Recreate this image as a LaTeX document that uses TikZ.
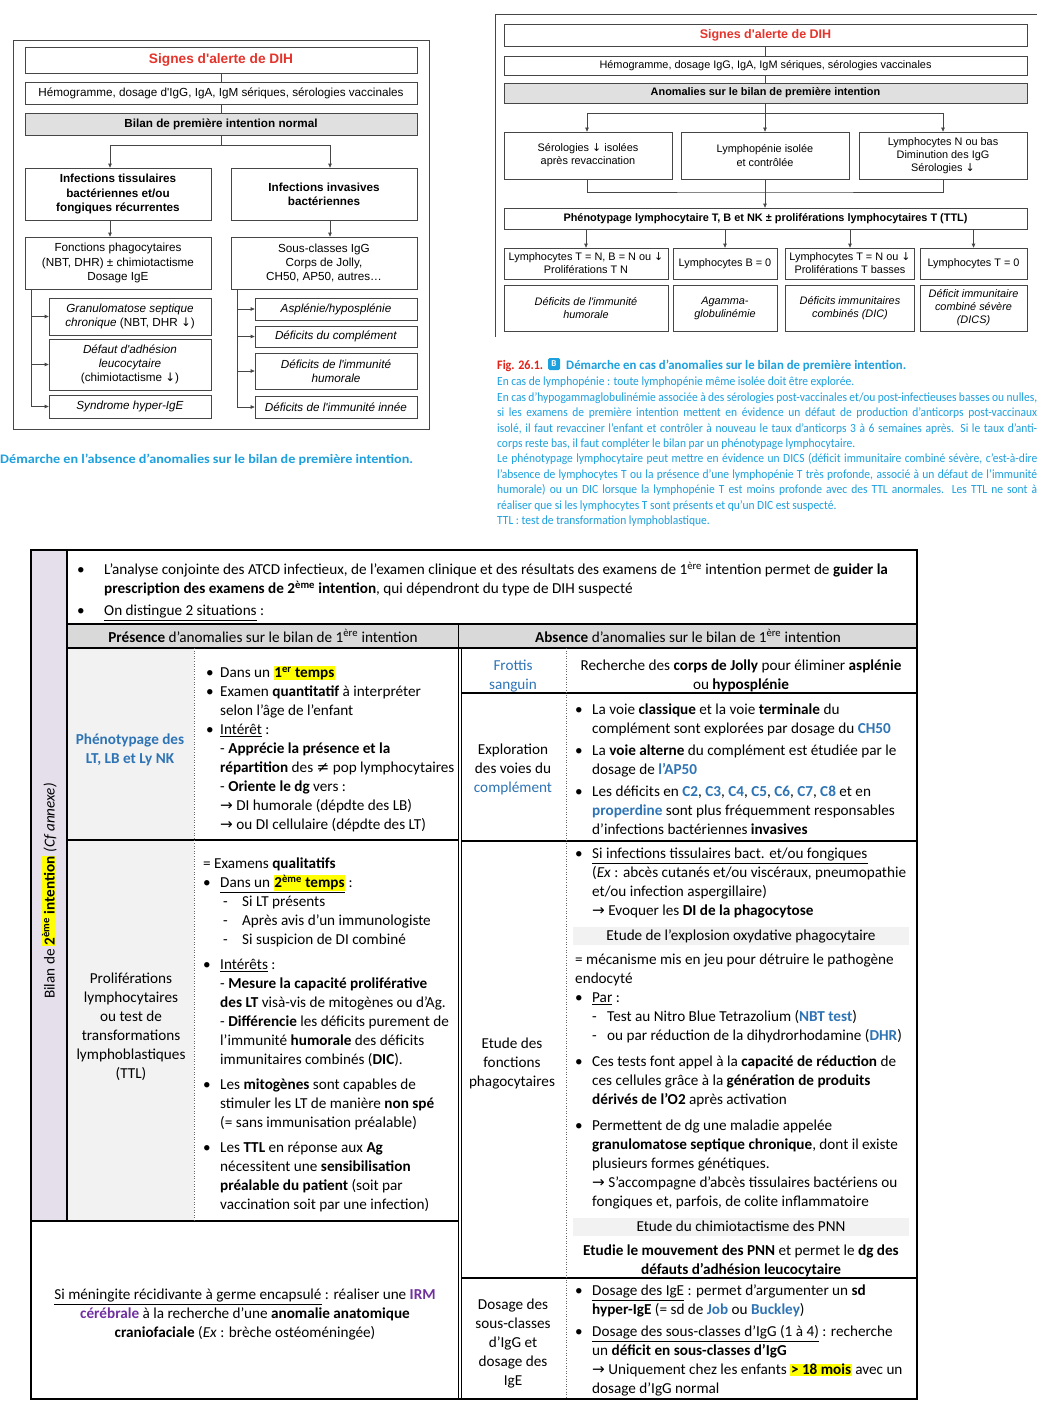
\documentclass[tikz,border=0pt]{standalone}
\usepackage{fontspec}
\setmainfont{Carlito}
\newfontfamily\arialfont{Liberation Sans}
\newfontfamily\symfont{DejaVu Sans}
\usepackage{xcolor}
\usepackage{graphicx}
\usetikzlibrary{positioning, arrows.meta}

\definecolor{dihred}{RGB}{228,52,44}
\definecolor{figred}{RGB}{226,35,26}
\definecolor{capblue}{RGB}{28,160,222}
\definecolor{tblue}{RGB}{46,116,181}
\definecolor{irmpurple}{RGB}{112,48,160}
\definecolor{lavender}{RGB}{229,223,236}
\definecolor{hdrgray}{RGB}{217,217,217}
\definecolor{cellgray}{RGB}{242,242,242}
\definecolor{hly}{RGB}{255,255,0}
\definecolor{flowgray}{RGB}{224,224,224}
\definecolor{flowline}{RGB}{70,70,70}

\newcommand\flowA{\arialfont\fontsize{11.7}{14.3}\selectfont}
\newcommand\flowB{\arialfont\fontsize{10.9}{13.1}\selectfont}
\newcommand\tabfont{\fontsize{15.2}{19}\selectfont}
\newcommand\capfont{\fontsize{12.5}{15.4}\selectfont}

\newcommand\bul[1][17pt]{\makebox[#1][l]{\textbullet}}
\newcommand\indt[1][17pt]{\hspace*{#1}}
\newcommand\dsh[1][15pt]{\makebox[#1][l]{-}}
\newcommand\arr{{\symfont →}}
\newcommand\dn{{\symfont ↓}}
\newcommand\hlt[1]{{\setlength{\fboxsep}{0.7pt}\colorbox{hly}{#1}}}
\newcommand\blu[1]{\textcolor{tblue}{\textbf{#1}}}
\newcommand\capl[1]{\scalebox{0.92}[1]{#1}}
\newcommand\capj[1]{\scalebox{0.92}[1]{\makebox[587pt][s]{#1}}}

\tikzset{
  fboxA/.style={draw=flowline, line width=0.7pt, align=center, inner sep=1pt, font=\flowA},
  fboxB/.style={draw=flowline, line width=0.7pt, align=center, inner sep=1pt, font=\flowB},
  sz/.style 2 args={minimum width=#1pt, minimum height=#2pt},
  flow/.style={draw=flowline, line width=0.7pt},
  cell/.style={anchor=north west, inner sep=0pt, align=left, font=\tabfont, execute at begin node=\strut},
  ccell/.style={anchor=north, inner sep=0pt, align=center, font=\tabfont, execute at begin node=\strut},
  hdr/.style={anchor=base, inner sep=0pt, font=\tabfont},
  band/.style={fill=cellgray, inner sep=0pt, minimum width=336pt, minimum height=18pt, font=\tabfont},
  rule/.style={line width=1.3pt},
  heavyrule/.style={line width=2pt},
  dotrule/.style={dotted, line width=0.6pt, black!60},
}

\begin{document}
\begin{tikzpicture}[x=1pt, y=-1pt, >={Triangle[length=4pt,width=3.5pt]}]
\useasboundingbox (0,0) rectangle (1048,1410);
\fill[white] (0,0) rectangle (1048,1410);

% panel A : bilan normal
\draw[flow] (13,40) rectangle (429,429);
\node[fboxA, sz={392}{26}, font=\arialfont\bfseries\fontsize{13.7}{16}\selectfont, text=dihred] (sigA) at (221,60) {Signes d'alerte de DIH};
\node[fboxA, sz={392}{22}] (hemoA) at (221,93) {Hémogramme, dosage d'IgG, IgA, IgM sériques, sérologies vaccinales};
\node[fboxA, sz={392}{22}, fill=flowgray, font=\flowA\bfseries] (bilA) at (221,124) {Bilan de première intention normal};
\node[fboxA, sz={186}{52}, font=\flowA\bfseries] (tissA) at (118,194) {Infections tissulaires\\bactériennes et/ou\\fongiques récurrentes};
\node[fboxA, sz={186}{52}, font=\flowA\bfseries] (invA) at (324,194) {Infections invasives\\bactériennes};
\node[fboxA, sz={186}{52}] (phagA) at (118,263) {Fonctions phagocytaires\\(NBT, DHR) ± chimiotactisme\\Dosage IgE};
\node[fboxA, sz={186}{52}] (sousA) at (324,263) {Sous-classes IgG\\Corps de Jolly,\\CH50, AP50, autres…};
\node[fboxA, sz={162}{37}] (granA) at (130,316.5) {\textit{Granulomatose septique}\\\textit{chronique} (NBT, DHR \dn)};
\node[fboxA, sz={162}{51}] (ladA) at (130,364.5) {\textit{Défaut d'adhésion}\\\textit{leucocytaire}\\(chimiotactisme \dn)};
\node[fboxA, sz={162}{23}] (hieA) at (130,406.5) {\textit{Syndrome hyper-IgE}};
\node[fboxA, sz={162}{22}] (asplA) at (336,309) {\textit{Asplénie/hyposplénie}};
\node[fboxA, sz={162}{21}] (compA) at (336,336.5) {\textit{Déficits du complément}};
\node[fboxA, sz={162}{36}] (humA) at (336,371) {\textit{Déficits de l'immunité}\\\textit{humorale}};
\node[fboxA, sz={162}{22}] (innA) at (336,407) {\textit{Déficits de l'immunité innée}};

\draw[flow] (sigA) -- (hemoA);
\draw[flow] (hemoA) -- (bilA);
\draw[flow,->] (bilA.south) -- ++(0,10) -| ([xshift=-8pt]tissA.north);
\draw[flow,->] (bilA.south) -- ++(0,10) -| ([xshift=6pt]invA.north);
\draw[flow,->] ([xshift=-8pt]tissA.south) -- ([xshift=-8pt]phagA.north);
\draw[flow,->] ([xshift=6pt]invA.south) -- ([xshift=6pt]sousA.north);
\foreach \n in {granA,ladA,hieA}
  \draw[flow,->] ([xshift=7pt]phagA.south west) |- (\n.west);
\foreach \n in {asplA,compA,humA,innA}
  \draw[flow,->] ([xshift=7pt]sousA.south west) |- (\n.west);

\node[anchor=base west, inner sep=0pt, text=capblue, font=\bfseries\fontsize{13}{15}\selectfont] (capA) at (0,463) {\resizebox{413pt}{\height}{Démarche en l'absence d'anomalies sur le bilan de première intention.}};

% panel B : anomalies
\draw[flow] (495,337) -- (495,14) -- (1037,14);
\node[fboxB, sz={523}{22}, font=\arialfont\bfseries\fontsize{12.5}{15}\selectfont, text=dihred] (sigB) at (765.5,35) {Signes d'alerte de DIH};
\node[fboxB, sz={523}{19}] (hemoB) at (765.5,65.5) {Hémogramme, dosage IgG, IgA, IgM sériques, sérologies vaccinales};
\node[fboxB, sz={523}{20}, fill=flowgray, font=\flowB\bfseries] (anoB) at (765.5,93) {Anomalies sur le bilan de première intention};
\node[fboxB, sz={168}{47}] (serB) at (588,155.5) {Sérologies \dn{} isolées\\après revaccination};
\node[fboxB, sz={168}{47}] (lymB) at (765,155.5) {Lymphopénie isolée\\et contrôlée};
\node[fboxB, sz={168}{47}] (igB) at (943,155.5) {Lymphocytes N ou bas\\Diminution des IgG\\Sérologies \dn};
\node[fboxB, sz={523}{21}, font=\flowB\bfseries] (phenB) at (765.5,218.5) {Phénotypage lymphocytaire T, B et NK ± proliférations lymphocytaires T (TTL)};
\node[fboxB, sz={164}{31}] (r1B) at (586,263.5) {Lymphocytes T = N, B = N ou \dn\\Proliférations T N};
\node[fboxB, sz={104}{31}] (r2B) at (725,263.5) {Lymphocytes B = 0};
\node[fboxB, sz={129}{31}] (r3B) at (850,263.5) {Lymphocytes T = N ou \dn\\Proliférations T basses};
\node[fboxB, sz={107}{31}] (r4B) at (973.5,263.5) {Lymphocytes T = 0};
\node[fboxB, sz={164}{46}, font=\flowB\itshape] (d1B) at (586,308) {Déficits de l'immunité\\humorale};
\node[fboxB, sz={104}{46}, font=\flowB\itshape] (d2B) at (725,308) {Agamma-\\globulinémie};
\node[fboxB, sz={129}{46}, font=\flowB\itshape] (d3B) at (850,308) {Déficits immunitaires\\combinés (DIC)};
\node[fboxB, sz={107}{46}, font=\flowB\itshape] (d4B) at (973.5,308) {Déficit immunitaire\\combiné sévère\\(DICS)};

\draw[flow] (sigB) -- (hemoB);
\draw[flow] (hemoB) -- (anoB);
\draw[flow,->] (anoB.south) -- ++(0,10) -| ([xshift=-1pt]serB.north);
\draw[flow,->] (anoB.south -| lymB.north) -- (lymB.north);
\draw[flow,->] (anoB.south) -- ++(0,10) -| (igB.north);
\coordinate (jB) at (765,192);
\draw[flow] ([xshift=-1pt]serB.south) |- (jB) -| (igB.south);
\draw[flow] (lymB.south) -- (jB);
\draw[flow,->] (jB) -- (jB |- phenB.north);
\foreach \n in {r1B,r2B,r3B,r4B}
  \draw[flow,->] (phenB.south -| \n.north) -- (\n.north);

\node[anchor=base west, inner sep=0pt, text=figred, font=\bfseries\fontsize{13}{15}\selectfont] (figB) at (497,369) {\resizebox{46pt}{\height}{Fig. 26.1.}};
\node[fill=capblue, text=white, rounded corners=1.5pt, inner sep=0pt, minimum size=12pt, font=\bfseries\fontsize{9}{10}\selectfont] (badgeB) at (554,364) {B};
\node[anchor=base west, inner sep=0pt, text=capblue, font=\bfseries\fontsize{13}{15}\selectfont] (titB) at (566,369) {\resizebox{340pt}{\height}{Démarche en cas d'anomalies sur le bilan de première intention.}};
\node[anchor=north west, inner sep=0pt, align=left, text=capblue, font=\capfont, execute at begin node=\strut] (bodyB) at (497,377) {%
\capl{En cas de lymphopénie : toute lymphopénie même isolée doit être explorée.}\\
\capj{En cas d'hypogammaglobulinémie associée à des sérologies post-vaccinales et/ou post-infectieuses basses ou nulles,}\\
\capj{si les examens de première intention mettent en évidence un défaut de production d'anticorps post-vaccinaux}\\
\capj{isolé, il faut revacciner l'enfant et contrôler à nouveau le taux d'anticorps 3 à 6 semaines après. Si le taux d'anti-}\\
\capl{corps reste bas, il faut compléter le bilan par un phénotypage lymphocytaire.}\\
\capj{Le phénotypage lymphocytaire peut mettre en évidence un DICS (déficit immunitaire combiné sévère, c'est-à-dire}\\
\capj{l'absence de lymphocytes T ou la présence d'une lymphopénie T très profonde, associé à un défaut de l'immunité}\\
\capj{humorale) ou un DIC lorsque la lymphopénie T est moins profonde avec des TTL anormales. Les TTL ne sont à}\\
\capl{réaliser que si les lymphocytes T sont présents et qu'un DIC est suspecté.}\\
\capl{TTL : test de transformation lymphoblastique.}};

% table : bilan de 2eme intention
\fill[lavender] (31,550) rectangle (67,1221);
\fill[hdrgray] (67,624) rectangle (917,648);
\fill[cellgray] (67,648) rectangle (194,1221);
\draw[rule] (31,550) rectangle (917,1399);
\draw[rule] (67,550) -- (67,1221);
\draw[heavyrule] (67,624) -- (917,624);
\draw[heavyrule] (67,648) -- (917,648);
\draw[rule] (458.5,624) -- (458.5,1399);
\draw[rule] (461.5,648) -- (461.5,1399);
\draw[rule] (67,840) -- (458.5,840);
\draw[heavyrule] (31,1221) -- (458.5,1221);
\draw[rule] (461.5,693) -- (917,693);
\draw[rule] (461.5,841) -- (917,841);
\draw[rule] (461.5,1278) -- (917,1278);
\draw[dotrule] (194,648) -- (194,1221);
\draw[dotrule] (566,648) -- (566,1399);

\node[font=\tabfont, rotate=90, inner sep=0pt] (bilanV) at (49,891) {Bilan de \hlt{\textbf{2\textsuperscript{ème} intention}} \textit{(Cf annexe)}};

\node[cell] (introT) at (77,562) {%
\bul[27pt]L'analyse conjointe des ATCD infectieux, de l'examen clinique et des résultats des examens de 1\textsuperscript{ère} intention permet de \textbf{guider la}\\
\indt[27pt]\textbf{prescription des examens de 2\textsuperscript{ème} intention}, qui dépendront du type de DIH suspecté\\[3pt]
\bul[27pt]\underline{On distingue 2 situations} :};

\node[hdr] (hdrL) at (263,642) {\textbf{Présence} d'anomalies sur le bilan de 1\textsuperscript{ère} intention};
\node[hdr] (hdrR) at (688,642) {\textbf{Absence} d'anomalies sur le bilan de 1\textsuperscript{ère} intention};

% presence d'anomalies
\node[ccell, text=tblue, font=\tabfont\bfseries] (phenoL) at (130,734) {Phénotypage des\\LT, LB et Ly NK};
\node[cell] (phenoR) at (206,666) {%
\bul[14pt]Dans un \hlt{\textbf{1\textsuperscript{er} temps}}\\
\bul[14pt]Examen \textbf{quantitatif} à interpréter\\
\indt[14pt]selon l'âge de l'enfant\\
\bul[14pt]\underline{Intérêt} :\\
\indt[14pt]- \textbf{Apprécie la présence et la}\\
\indt[14pt]\textbf{répartition} des {\symfont ≠} pop lymphocytaires\\
\indt[14pt]- \textbf{Oriente le dg} vers :\\
\indt[14pt]\arr{} DI humorale (dépdte des LB)\\
\indt[14pt]\arr{} ou DI cellulaire (dépdte des LT)};

\node[ccell] (prolifL) at (131,973) {Proliférations\\lymphocytaires\\ou test de\\transformations\\lymphoblastiques\\(TTL)};
\node[cell] (prolifR) at (203,858) {%
= Examens \textbf{qualitatifs}\\
\bul\underline{Dans un \hlt{\textbf{2\textsuperscript{ème} temps}}} :\\
\indt[20pt]\dsh[19pt]Si LT présents\\
\indt[20pt]\dsh[19pt]Après avis d'un immunologiste\\
\indt[20pt]\dsh[19pt]Si suspicion de DI combiné\\[6pt]
\bul\underline{Intérêts} :\\
\indt- \textbf{Mesure la capacité proliférative}\\
\indt\textbf{des LT} visà-vis de mitogènes ou d’Ag.\\
\indt- \textbf{Différencie} les déficits purement de\\
\indt l'immunité \textbf{humorale} des déficits\\
\indt immunitaires combinés (\textbf{DIC}).\\[6pt]
\bul Les \textbf{mitogènes} sont capables de\\
\indt stimuler les LT de manière \textbf{non spé}\\
\indt(= sans immunisation préalable)\\[6pt]
\bul Les \textbf{TTL} en réponse aux \textbf{Ag}\\
\indt nécessitent une \textbf{sensibilisation}\\
\indt\textbf{préalable du patient} (soit par\\
\indt vaccination soit par une infection)};

\node[ccell] (menL) at (245,1289) {\underline{Si méningite récidivante à germe encapsulé} : réaliser une \textcolor{irmpurple}{\textbf{IRM}}\\\textcolor{irmpurple}{\textbf{cérébrale}} à la recherche d'une \textbf{anomalie anatomique}\\\textbf{craniofaciale} (\textit{Ex} : brèche ostéoméningée)};

% absence d'anomalies
\node[ccell, text=tblue] (frotL) at (513,660) {Frottis\\sanguin};
\node[ccell] (frotR) at (741,660) {Recherche des \textbf{corps de Jolly} pour éliminer \textbf{asplénie}\\ou \textbf{hyposplénie}};

\node[ccell] (complL) at (513,744) {Exploration\\des voies du\\\textcolor{tblue}{complément}};
\node[cell] (complR) at (575,704) {%
\bul La voie \textbf{classique} et la voie \textbf{terminale} du\\
\indt complément sont explorées par dosage du \blu{CH50}\\[3pt]
\bul La \textbf{voie alterne} du complément est étudiée par le\\
\indt dosage de \blu{l'AP50}\\[3pt]
\bul Les déficits en \blu{C2}, \blu{C3}, \blu{C4}, \blu{C5}, \blu{C6}, \blu{C7}, \blu{C8} et en\\
\indt\blu{properdine} sont plus fréquemment responsables\\
\indt d'infections bactériennes \textbf{invasives}};

\node[ccell] (phagL) at (512,1038) {Etude des\\fonctions\\phagocytaires};
\node[cell] (phagR) at (575,848) {%
\bul\underline{Si infections tissulaires bact. et/ou fongiques}\\
\indt(\textit{Ex} : abcès cutanés et/ou viscéraux, pneumopathie\\
\indt et/ou infection aspergillaire)\\
\indt\arr{} Evoquer les \textbf{DI de la phagocytose}};
\node[band] (bandOx) at (741,936) {Etude de l'explosion oxydative phagocytaire};
\node[cell] (oxyR) at (575,954) {%
= mécanisme mis en jeu pour détruire le pathogène\\
endocyté\\
\bul\underline{Par} :\\
\indt\dsh Test au Nitro Blue Tetrazolium (\blu{NBT test})\\
\indt\dsh ou par réduction de la dihydrorhodamine (\blu{DHR})\\[7pt]
\bul Ces tests font appel à la \textbf{capacité de réduction} de\\
\indt ces cellules grâce à la \textbf{génération de produits}\\
\indt\textbf{dérivés de l'O2} après activation\\[7pt]
\bul Permettent de dg une maladie appelée\\
\indt\textbf{granulomatose septique chronique}, dont il existe\\
\indt plusieurs formes génétiques.\\
\indt\arr{} S'accompagne d'abcès tissulaires bactériens ou\\
\indt fongiques et, parfois, de colite inflammatoire};
\node[band] (bandChim) at (741,1226.5) {Etude du chimiotactisme des PNN};
\node[ccell] (chimR) at (741,1245) {\textbf{Etudie le mouvement des PNN} et permet le \textbf{dg des}\\\textbf{défauts d'adhésion leucocytaire}};

\node[ccell] (dosL) at (513,1299) {Dosage des\\sous-classes\\d'IgG et\\dosage des\\IgE};
\node[cell] (dosR) at (575,1285) {%
\bul\underline{Dosage des IgE} : permet d'argumenter un \textbf{sd}\\
\indt\textbf{hyper-IgE} (= sd de \blu{Job} ou \blu{Buckley})\\[3pt]
\bul\underline{Dosage des sous-classes d'IgG (1 à 4)} : recherche\\
\indt un \textbf{déficit en sous-classes d'IgG}\\
\indt\arr{} Uniquement chez les enfants \hlt{\textbf{> 18 mois}} avec un\\
\indt dosage d'IgG normal};
\end{tikzpicture}
\end{document}
